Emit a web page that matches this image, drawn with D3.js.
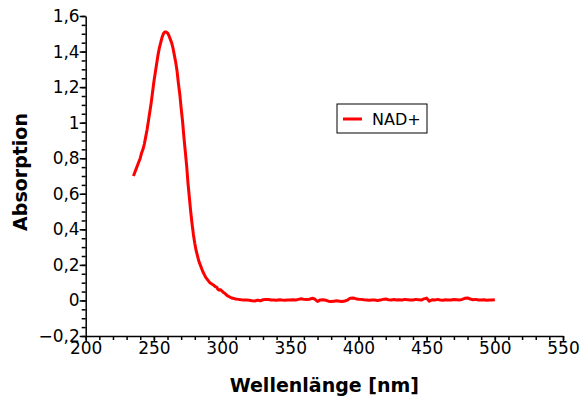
<!DOCTYPE html>
<html>
<head>
<meta charset="utf-8">
<script src="https://cdn.jsdelivr.net/npm/d3@7"></script>
<style>
  body { margin: 0; background: #fff; }
  svg { display: block; font-family: "DejaVu Sans", Verdana, sans-serif; }
</style>
</head>
<body>
<figure id="chart" style="margin:0"></figure>
<script>
// spectrum (nm, absorbance)
const wavelengths = [
  235, 236, 237, 238, 239, 240, 241, 242, 243, 244, 245, 246, 247, 248, 249,
  250, 251, 252, 253, 254, 255, 256, 257, 258, 259, 260, 261, 262, 263, 264,
  265, 266, 267, 268, 269, 270, 271, 272, 273, 274, 275, 276, 277, 278, 279,
  280, 281, 282, 283, 284, 285, 286, 287, 288, 289, 290, 291, 292, 293, 294,
  295, 296, 297, 298, 299, 300, 301, 302, 303, 304, 305, 306, 307, 308, 309,
  310, 312, 314, 316, 318, 320, 322, 324, 326, 328, 330, 332, 334, 336, 338,
  340, 342, 344, 346, 348, 350, 352, 354, 356, 358, 360, 362, 364, 366, 368,
  370, 372, 374, 376, 378, 380, 382, 384, 386, 388, 390, 392, 394, 396, 398,
  400, 402, 404, 406, 408, 410, 412, 414, 416, 418, 420, 422, 424, 426, 428,
  430, 432, 434, 436, 438, 440, 442, 444, 446, 448, 450, 452, 454, 456, 458,
  460, 462, 464, 466, 468, 470, 472, 474, 476, 478, 480, 482, 484, 486, 488,
  490, 492, 494, 496, 498, 500
];
const nadAbsorbance = [
  0.70, 0.72, 0.74, 0.76, 0.78, 0.80, 0.83, 0.85, 0.88, 0.92, 0.96, 1.01, 1.06, 1.11, 1.17,
  1.23, 1.28, 1.33, 1.38, 1.42, 1.45, 1.48, 1.50, 1.51, 1.51, 1.505, 1.49, 1.47, 1.45, 1.42,
  1.38, 1.34, 1.29, 1.22, 1.16, 1.08, 1.01, 0.92, 0.84, 0.76, 0.66, 0.58, 0.50, 0.43, 0.37,
  0.32, 0.28, 0.25, 0.22, 0.20, 0.18, 0.16, 0.145, 0.13, 0.12, 0.11, 0.10, 0.095, 0.09, 0.085,
  0.078, 0.075, 0.062, 0.058, 0.060, 0.052, 0.045, 0.040, 0.033, 0.026, 0.022, 0.018, 0.014, 0.012, 0.010,
  0.008, 0.006, 0.004, 0.003, 0.002, 0.001, -0.002, -0.003, 0.002, -0.002, 0.004, 0.006, 0.005, 0.002, 0.003,
  0.001, 0.004, 0.002, 0.001, 0.003, 0.002, 0.004, 0.003, 0.006, 0.009, 0.006, 0.005, 0.007, 0.012, 0.008,
  -0.006, 0.003, 0.004, 0.001, -0.004, -0.006, -0.004, -0.002, -0.004, -0.006, -0.003, 0.002, 0.013, 0.014, 0.010,
  0.007, 0.006, 0.004, 0.003, 0.001, 0.003, 0.002, 0.000, 0.002, 0.006, 0.008, 0.004, 0.003, 0.005, 0.002,
  0.004, 0.003, 0.006, 0.004, 0.002, 0.003, 0.006, 0.004, 0.002, 0.009, 0.013, -0.004, 0.004, 0.002, 0.006,
  0.003, 0.001, 0.004, 0.003, 0.002, 0.005, 0.004, 0.002, 0.006, 0.012, 0.014, 0.008, 0.004, 0.006, 0.003,
  0.002, 0.004, 0.001, 0.003, 0.002, 0.004
];
const seriesName = "NAD+";
const xTicks = [200, 250, 300, 350, 400, 450, 500, 550];
const yTicks = [-0.2, 0, 0.2, 0.4, 0.6, 0.8, 1, 1.2, 1.4, 1.6];
const xLabel = "Wellenlänge [nm]";
const yLabel = "Absorption";

const width = 583;
const height = 398;
const plotLeft = 85.7, plotRight = 563, plotTop = 16, plotBottom = 336;

const data = wavelengths.map((w, i) => ({ x: w, y: nadAbsorbance[i] }));

const de = d3.formatLocale({ decimal: ",", thousands: ".", grouping: [3], currency: ["", " €"], minus: "\u2212" });
const fmt = de.format("~g");

const svg = d3.select("figure#chart")
  .append("svg")
  .attr("width", width)
  .attr("height", height);

const x = d3.scaleLinear().domain([200, 550]).range([plotLeft, plotRight]);
const y = d3.scaleLinear().domain([-0.2, 1.6]).range([plotBottom, plotTop]);

// minor ticks first, majors on top
svg.append("g")
  .attr("transform", "translate(0," + plotBottom + ")")
  .call(d3.axisBottom(x).tickValues(d3.range(200, 551, 10)).tickSize(4).tickSizeOuter(0).tickFormat(""))
  .call(g => g.select(".domain").remove())
  .call(g => g.selectAll("line").attr("stroke-width", 1.5));

svg.append("g")
  .attr("transform", "translate(" + plotLeft + ",0)")
  .call(d3.axisLeft(y).tickValues(d3.range(-0.2, 1.601, 0.05)).tickSize(4).tickSizeOuter(0).tickFormat(""))
  .call(g => g.select(".domain").remove())
  .call(g => g.selectAll("line").attr("stroke-width", 1.5));

// x axis
svg.append("g")
  .attr("transform", "translate(0," + plotBottom + ")")
  .call(d3.axisBottom(x).tickValues(xTicks).tickSize(6).tickPadding(0).tickSizeOuter(0))
  .call(g => g.select(".domain").attr("stroke-width", 1.5))
  .call(g => g.selectAll("line").attr("stroke-width", 1.5))
  .selectAll("text")
  .attr("font-size", 17)
  .attr("font-family", "DejaVu Sans")
  .attr("fill", "#000");

// y axis
svg.append("g")
  .attr("transform", "translate(" + plotLeft + ",0)")
  .call(d3.axisLeft(y).tickValues(yTicks).tickSize(6).tickPadding(0).tickSizeOuter(0).tickFormat(fmt))
  .call(g => g.select(".domain").attr("stroke-width", 1.5))
  .call(g => g.selectAll("line").attr("stroke-width", 1.5))
  .selectAll("text")
  .attr("font-size", 17)
  .attr("font-family", "DejaVu Sans")
  .attr("fill", "#000");

// axis titles
svg.append("text")
  .attr("x", (plotLeft + plotRight) / 2)
  .attr("y", 392)
  .attr("text-anchor", "middle")
  .attr("font-size", 19)
  .attr("font-weight", "bold")
  .text(xLabel);

svg.append("text")
  .attr("transform", "translate(27,172)rotate(-90)")
  .attr("text-anchor", "middle")
  .attr("font-size", 19)
  .attr("font-weight", "bold")
  .text(yLabel);

// the spectrum
svg.append("path")
  .datum(data)
  .attr("fill", "none")
  .attr("stroke", "#ff0000")
  .attr("stroke-width", 3)
  .attr("stroke-linejoin", "round")
  .attr("d", d3.line().x(d => x(d.x)).y(d => y(d.y)));

// legend
const legend = svg.append("g").attr("transform", "translate(337,104)");
legend.append("rect")
  .attr("width", 90)
  .attr("height", 29)
  .attr("fill", "#fff")
  .attr("stroke", "#000")
  .attr("stroke-width", 1);
legend.append("line")
  .attr("x1", 6).attr("x2", 25)
  .attr("y1", 15).attr("y2", 15)
  .attr("stroke", "#ff0000")
  .attr("stroke-width", 3);
legend.append("text")
  .attr("x", 35)
  .attr("y", 21)
  .attr("font-size", 16)
  .text(seriesName);
</script>
</body>
</html>
